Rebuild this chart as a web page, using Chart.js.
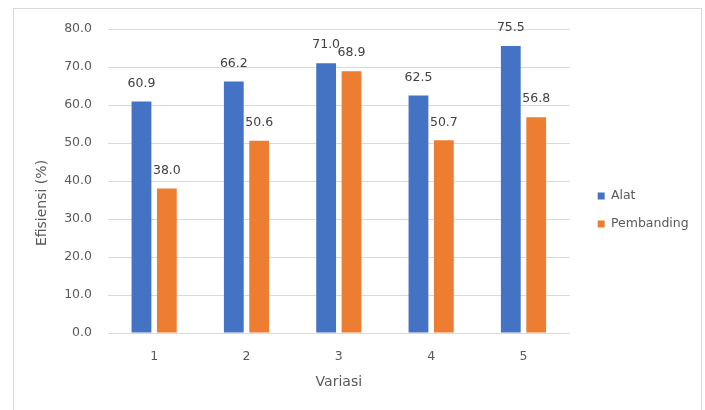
<!DOCTYPE html>
<html>
<head>
<meta charset="utf-8">
<script src="https://cdn.jsdelivr.net/npm/chart.js@4"></script>
<style>
  html, body { margin: 0; padding: 0; background: #ffffff; }
  #wrap { width: 705px; height: 410px; position: relative; }
</style>
</head>
<body>
<div id="wrap"><canvas id="chart" width="705" height="410"></canvas></div>
<script>
// Efficiency per variation
const categories = ['1', '2', '3', '4', '5'];
const alatValues = [60.9, 66.2, 71.0, 62.5, 75.5];
const pembandingValues = [38.0, 50.6, 68.9, 50.7, 56.8];
const seriesNames = ['Alat', 'Pembanding'];
const yTickValues = [0, 10, 20, 30, 40, 50, 60, 70, 80];
const yAxisTitle = 'Efisiensi (%)';
const xAxisTitle = 'Variasi';

const FONT = 'DejaVu Sans';
const TEXT = '#595959';
const GRID = '#d9d9d9';

// light outer frame around the chart object
const framePlugin = {
  id: 'frame',
  beforeDraw(chart) {
    const ctx = chart.ctx;
    ctx.save();
    ctx.strokeStyle = '#d9d9d9';
    ctx.lineWidth = 1;
    ctx.strokeRect(13.5, 8.5, 688, 420);
    ctx.restore();
  }
};

// value labels above each bar
const valueLabels = {
  id: 'valueLabels',
  afterDatasetsDraw(chart) {
    const ctx = chart.ctx;
    ctx.save();
    ctx.font = '12.5px "' + FONT + '"';
    ctx.fillStyle = '#404040';
    ctx.textAlign = 'center';
    ctx.textBaseline = 'middle';
    chart.data.datasets.forEach((ds, di) => {
      chart.getDatasetMeta(di).data.forEach((bar, i) => {
        ctx.fillText(ds.data[i].toFixed(1), bar.x, bar.y - 18);
      });
    });
    ctx.restore();
  }
};

// rotated y axis title
const yTitlePlugin = {
  id: 'yTitle',
  afterDraw(chart) {
    const ctx = chart.ctx;
    ctx.save();
    ctx.translate(42, 203);
    ctx.rotate(-Math.PI / 2);
    ctx.font = '14px "' + FONT + '"';
    ctx.fillStyle = TEXT;
    ctx.textAlign = 'center';
    ctx.textBaseline = 'middle';
    ctx.fillText(yAxisTitle, 0, 0);
    ctx.restore();
  }
};

new Chart(document.getElementById('chart'), {
  type: 'bar',
  data: {
    labels: categories,
    datasets: [
      { label: seriesNames[0], data: alatValues, backgroundColor: '#4472C4', borderWidth: 0 },
      { label: seriesNames[1], data: pembandingValues, backgroundColor: '#ED7D31', borderWidth: 0 }
    ]
  },
  options: {
    responsive: false,
    devicePixelRatio: 1,
    animation: false,
    datasets: { bar: { categoryPercentage: 0.55, barPercentage: 0.78 } },
    layout: { padding: { top: 29, bottom: 19, left: 13, right: 9 } },
    scales: {
      x: {
        grid: { display: false },
        border: { display: false },
        ticks: { color: TEXT, font: { family: FONT, size: 12.5 }, padding: 8 },
        title: { display: true, text: xAxisTitle, color: TEXT, font: { family: FONT, size: 14 }, padding: { top: 0, bottom: 0 } },
        afterFit(s) { s.height = 58; }
      },
      y: {
        min: yTickValues[0],
        max: yTickValues[yTickValues.length - 1],
        afterBuildTicks(s) { s.ticks = yTickValues.map(v => ({ value: v })); },
        grid: { color: GRID, drawTicks: false },
        border: { display: false },
        ticks: {
          color: TEXT,
          font: { family: FONT, size: 12.5 },
          padding: 16,
          callback: v => Number(v).toFixed(1)
        },
        afterFit(s) { s.width = 95; }
      },
      gap: {
        type: 'linear',
        position: 'right',
        display: true,
        grid: { display: false },
        border: { display: false },
        ticks: { display: false },
        afterFit(s) { s.width = 12.5; }
      }
    },
    plugins: {
      legend: {
        position: 'right',
        align: 'center',
        labels: {
          boxWidth: 7,
          boxHeight: 7,
          padding: 15.5,
          color: TEXT,
          font: { family: FONT, size: 12.5 }
        }
      },
      tooltip: { enabled: false }
    }
  },
  plugins: [framePlugin, valueLabels, yTitlePlugin]
});
</script>
</body>
</html>
